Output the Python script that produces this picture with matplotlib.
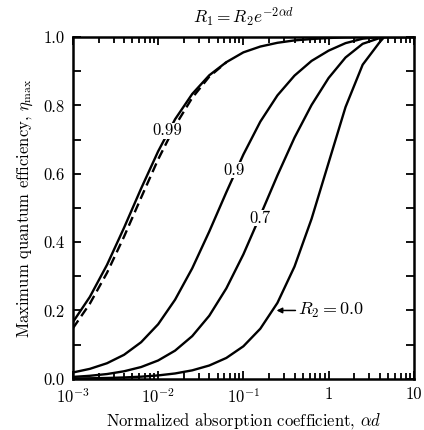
import matplotlib
matplotlib.use("Agg")
import matplotlib.pyplot as plt
from matplotlib.ticker import FixedLocator, NullFormatter, LogLocator

plt.rcParams['font.family'] = 'serif'
plt.rcParams['font.serif'] = ['cmr10', 'DejaVu Serif']
plt.rcParams['mathtext.fontset'] = 'cm'
plt.rcParams['axes.formatter.use_mathtext'] = True

# normalized absorption coefficient alpha*d
AD = [0.001, 0.00158, 0.00251, 0.00398, 0.00631, 0.01, 0.0158, 0.0251, 0.0398,
      0.0631, 0.1, 0.158, 0.251, 0.398, 0.631, 1.0, 1.58, 2.51, 3.98, 4.5, 10]

# maximum quantum efficiency for each R2
ETA_R0 = [0.0010, 0.0016, 0.0025, 0.0040, 0.0063, 0.0100, 0.0157, 0.0248, 0.0390,
          0.0611, 0.0952, 0.1466, 0.2222, 0.3284, 0.4679, 0.6321, 0.7950, 0.9189,
          0.985, 1.0, 1.0]
ETA_R07 = [0.0056, 0.0089, 0.0140, 0.0221, 0.0345, 0.0537, 0.0825, 0.1249, 0.1846,
           0.2646, 0.3641, 0.4777, 0.5952, 0.7056, 0.8010, 0.8800, 0.9400, 0.9800,
           0.997, 1.0, 1.0]
ETA_R09 = [0.0186, 0.0292, 0.0456, 0.0703, 0.1071, 0.1597, 0.2315, 0.3232, 0.4310,
           0.5458, 0.6561, 0.7523, 0.8292, 0.8870, 0.9300, 0.9600, 0.9820, 0.9950,
           1.0, 1.0, 1.0]
ETA_R099 = [0.1660, 0.2398, 0.3333, 0.4420, 0.5567, 0.6656, 0.7593, 0.8333, 0.8880,
            0.9263, 0.955, 0.972, 0.983, 0.990, 0.994, 0.997, 0.999, 1.0,
            1.0, 1.0, 1.0]

# dashed curve next to R2 = 0.99
AD_DASH = [0.001, 0.00158, 0.00251, 0.00398, 0.00631, 0.01, 0.0158, 0.0251, 0.0398, 0.0631]
ETA_DASH = [0.148, 0.220, 0.310, 0.416, 0.530, 0.642, 0.740, 0.822, 0.884, 0.926]

fig = plt.figure(figsize=(4.24, 4.30), dpi=100)
ax = fig.add_axes([0.172, 0.119, 0.804, 0.795])

lw = 1.7
ax.plot(AD, ETA_R099, color='black', lw=lw)
ax.plot(AD_DASH, ETA_DASH, color='black', lw=lw, dashes=(4, 2.2))
ax.plot(AD, ETA_R09, color='black', lw=lw)
ax.plot(AD, ETA_R07, color='black', lw=lw)
ax.plot(AD, ETA_R0, color='black', lw=lw)

ax.set_xscale('log')
ax.set_xlim(1e-3, 10)
ax.set_ylim(0, 1.0)

ax.set_xticks([1e-3, 1e-2, 1e-1, 1, 10])
ax.set_xticklabels([r'$10^{-3}$', r'$10^{-2}$', r'$10^{-1}$', '1', '10'])
ax.xaxis.set_minor_locator(LogLocator(base=10, subs=range(2, 10)))
ax.xaxis.set_minor_formatter(NullFormatter())
ax.set_yticks([0.0, 0.2, 0.4, 0.6, 0.8, 1.0])
ax.set_yticklabels(['0.0', '0.2', '0.4', '0.6', '0.8', '1.0'])
ax.yaxis.set_minor_locator(FixedLocator([0.1, 0.3, 0.5, 0.7, 0.9]))

ax.tick_params(which='both', direction='in', top=True, right=True, labelsize=12, width=1.3)
ax.tick_params(which='major', length=6, pad=6)
ax.tick_params(which='minor', length=4)
ax.tick_params(axis='y', which='minor', length=6)
for s in ax.spines.values():
    s.set_linewidth(1.8)

box = dict(facecolor='white', edgecolor='none', pad=0.3)
ax.text(0.0128, 0.726, '0.99', fontsize=12, ha='center', va='center', bbox=box)
ax.text(0.078, 0.61, '0.9', fontsize=12, ha='center', va='center', bbox=box)
ax.text(0.155, 0.47, '0.7', fontsize=12, ha='center', va='center', bbox=box)
ax.annotate(r'$R_2 = 0.0$', xy=(0.245, 0.20), xytext=(0.44, 0.20),
            fontsize=13, va='center', ha='left',
            arrowprops=dict(arrowstyle='-|>', color='black', lw=1.1,
                            mutation_scale=8, shrinkA=0, shrinkB=0))

ax.set_xlabel(r'Normalized absorption coefficient, $\alpha d$', fontsize=12, labelpad=4)
ax.set_ylabel(r'Maximum quantum efficiency, $\eta_{\max}$', fontsize=12, labelpad=6)
ax.set_title(r'$R_1 = R_2 e^{-2\alpha d}$', fontsize=12.5, pad=10)

fig.savefig('out.png', dpi=100)
